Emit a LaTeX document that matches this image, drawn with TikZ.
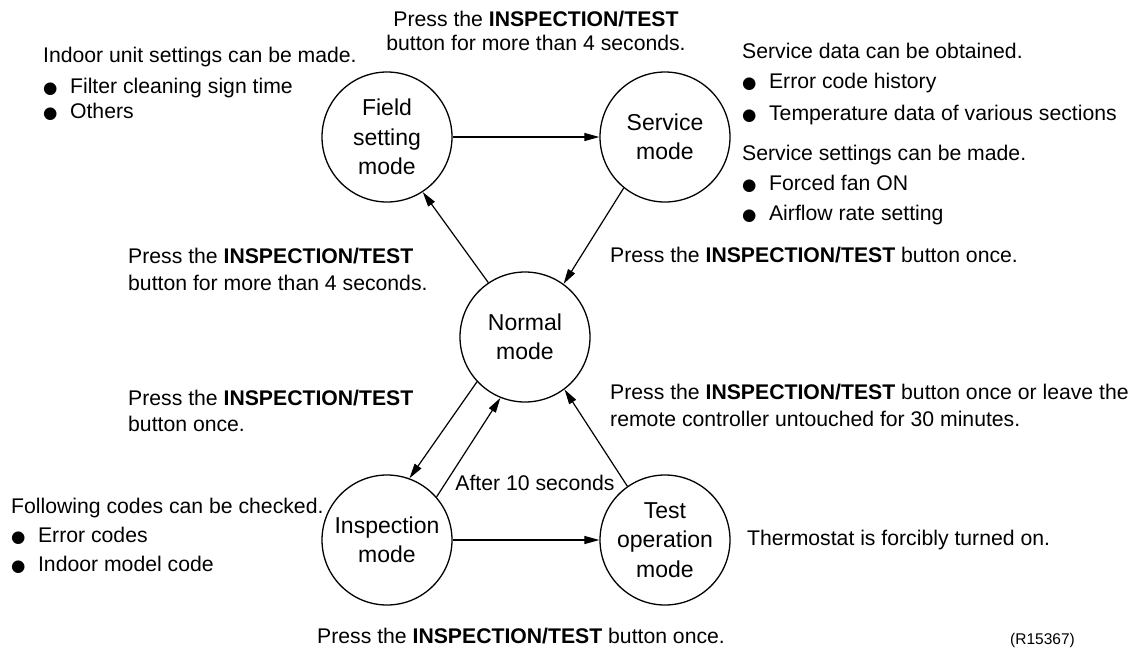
\documentclass[tikz,border=0pt]{standalone}
\usepackage{fontspec}
\setmainfont{Liberation Sans}
\newfontfamily\symfont{DejaVu Sans}
\usetikzlibrary{arrows.meta}
\newcommand\bul{{\symfont\fontsize{16.5}{16.5}\selectfont ●}\hspace{12.5pt}}
\begin{document}
\begin{tikzpicture}[x=1pt,y=-1pt,
  state/.style={circle,draw,line width=1.3pt,minimum size=130pt,inner sep=0pt,align=center,
    font=\fontsize{23}{29.5}\selectfont},
  txt/.style={anchor=base west,inner sep=0pt,font=\fontsize{21.2}{25}\selectfont},
  ctxt/.style={anchor=base,inner sep=0pt,font=\fontsize{21.2}{25}\selectfont},
  small/.style={anchor=base west,inner sep=0pt,font=\fontsize{15.5}{18}\selectfont},
  arr/.style={-{Triangle[length=15pt,width=8pt]},line width=1.2pt}]
\useasboundingbox (0,0) rectangle (1143,651);

% states
\node[state] (field) at (387,137) {Field\\setting\\mode};
\node[state] (service) at (665,137) {Service\\mode};
\node[state] (normal) at (525,337) {Normal\\mode};
\node[state] (insp) at (387,540) {Inspection\\mode};
\node[state] (test) at (665,540) {Test\\operation\\mode};

% connectors
\draw[arr] (field.east) -- (service.west);
\draw[arr] (service.231) -- (normal.54);
\draw[arr] (normal.124) -- (field.303);
\draw[arr] (normal.223) -- (insp.70);
\draw[arr] (insp.41) -- (normal.248);
\draw[arr] (test.125) -- (normal.307);
\draw[arr] (insp.east) -- (test.west);

% top centre
\node[ctxt] (t1) at (536,26) {Press the \textbf{INSPECTION/TEST}};
\node[ctxt] (t2) at (536,50) {button for more than 4 seconds.};

% top left
\node[txt] (fl1) at (43,62) {Indoor unit settings can be made.};
\node[txt] (fl2) at (43,93) {\bul Filter cleaning sign time};
\node[txt] (fl3) at (43,118) {\bul Others};

% top right
\node[txt] (sv1) at (742,58) {Service data can be obtained.};
\node[txt] (sv2) at (742,88) {\bul Error code history};
\node[txt] (sv3) at (742,120) {\bul Temperature data of various sections};
\node[txt] (sv4) at (742,160) {Service settings can be made.};
\node[txt] (sv5) at (742,190) {\bul Forced fan ON};
\node[txt] (sv6) at (742,220) {\bul Airflow rate setting};

% left middle
\node[txt] (lm1) at (128,263) {Press the \textbf{INSPECTION/TEST}};
\node[txt] (lm2) at (128,290) {button for more than 4 seconds.};

% right middle
\node[txt] (rm1) at (610,262) {Press the \textbf{INSPECTION/TEST} button once.};

% left lower
\node[txt] (ll1) at (128,405) {Press the \textbf{INSPECTION/TEST}};
\node[txt] (ll2) at (128,431) {button once.};

% right lower
\node[txt] (rl1) at (610,399) {Press the \textbf{INSPECTION/TEST} button once or leave the};
\node[txt] (rl2) at (610,426) {remote controller untouched for 30 minutes.};

% after 10 seconds
\node[ctxt] (a10) at (535,490) {After 10 seconds};

% inspection notes
\node[txt] (in1) at (11,513) {Following codes can be checked.};
\node[txt] (in2) at (11,542) {\bul Error codes};
\node[txt] (in3) at (11,571) {\bul Indoor model code};

% test note
\node[txt] (th) at (747,545) {Thermostat is forcibly turned on.};

% bottom
\node[txt] (b1) at (317,643) {Press the \textbf{INSPECTION/TEST} button once.};
\node[small] (ref) at (1010,644) {(R15367)};
\end{tikzpicture}
\end{document}
